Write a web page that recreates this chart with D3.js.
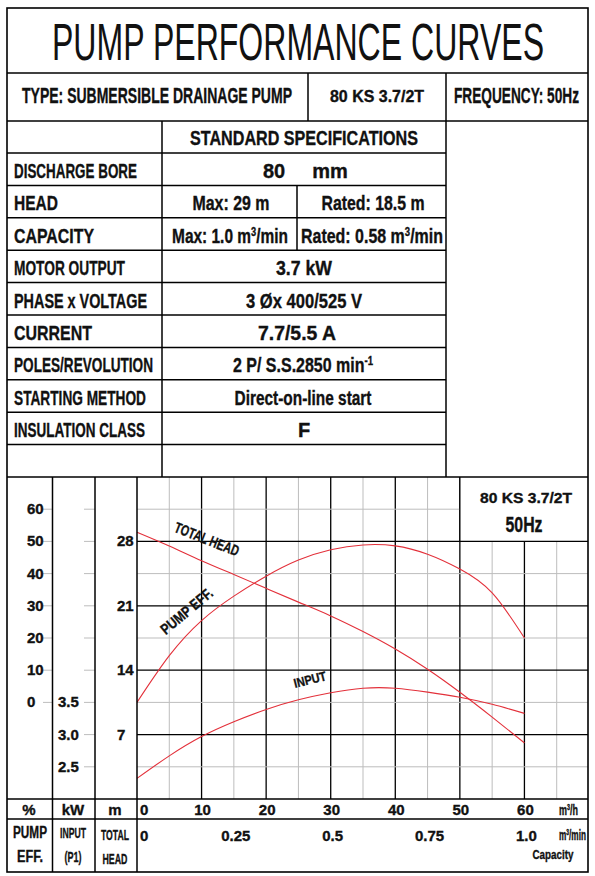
<!DOCTYPE html>
<html>
<head>
<meta charset="utf-8">
<script src="https://cdn.jsdelivr.net/npm/d3@7"></script>
<style>
  body { margin: 0; background: #fff; }
  svg { display: block; }
</style>
</head>
<body>
<svg id="sheet" width="595" height="876"></svg>
<script>
// --- data ---
const flowQ = [0, 5, 10, 15, 20, 25, 30, 35, 40, 45, 50, 55, 60];          // m3/h
const headM = [29.0, 27.5, 25.9, 24.4, 22.9, 21.4, 19.9, 18.2, 16.3, 14.1, 11.6, 8.9, 6.1];
const effPct = [0, 14.5, 25.4, 33.0, 39.2, 44.2, 47.4, 48.9, 48.6, 46.0, 41.4, 34.0, 20.0];
const inputKW = [2.32, 2.67, 2.97, 3.20, 3.39, 3.54, 3.65, 3.72, 3.72, 3.66, 3.58, 3.47, 3.33];

const flowTicks = [0, 10, 20, 30, 40, 50, 60];
const minTickLabels = ["0", "0.25", "0.5", "0.75", "1.0"];
const minTickFlows = [0, 15, 30, 45, 60];
const headTicks = [7, 14, 21, 28];
const effTicks = [0, 10, 20, 30, 40, 50, 60];
const kwTicks = [2.5, 3.0, 3.5];

const specLabels = ["DISCHARGE BORE", "HEAD", "CAPACITY", "MOTOR OUTPUT", "PHASE x VOLTAGE",
  "CURRENT", "POLES/REVOLUTION", "STARTING METHOD", "INSULATION CLASS", ""];
const specLabelWidths = [123, 44, 80, 111, 133, 78, 139, 132, 131, 0];

const NARROW = "'Liberation Sans Narrow', 'Arial Narrow', 'Liberation Sans', Arial, sans-serif";
const WIDE = "'Liberation Sans', Arial, sans-serif";
const RED = "#e3303a";

const svg = d3.select("#sheet");

// text helper; str may be an array with {sup:"3"} pieces
function label(parent, x, y, str, o = {}) {
  const size = o.size || 16;
  const t = parent.append("text")
    .attr("x", x).attr("y", y)
    .attr("font-family", o.family || NARROW)
    .attr("font-size", size)
    .attr("font-weight", o.weight || "bold")
    .attr("text-anchor", o.anchor || "start")
    .attr("fill", "#111");
  if ((o.weight || "bold") === "bold") t.attr("stroke", "#111").attr("stroke-width", 0.35);
  if (Array.isArray(str)) {
    let raised = false;
    str.forEach(p => {
      if (typeof p === "string") {
        t.append("tspan").attr("dy", raised ? size * 0.35 : null).text(p);
        raised = false;
      } else {
        t.append("tspan").attr("dy", -size * 0.35).attr("font-size", size * 0.6).text(p.sup);
        raised = true;
      }
    });
  } else t.text(str);
  if (o.w) t.attr("textLength", o.w).attr("lengthAdjust", "spacingAndGlyphs");
  if (o.rot) t.attr("transform", `rotate(${o.rot},${x},${y})`);
  return t;
}

function hline(y, x1, x2, w = 1.5, c = "#000") {
  svg.append("line").attr("x1", x1).attr("x2", x2).attr("y1", y).attr("y2", y)
    .attr("stroke", c).attr("stroke-width", w);
}
function vline(x, y1, y2, w = 1.5, c = "#000") {
  svg.append("line").attr("x1", x).attr("x2", x).attr("y1", y1).attr("y2", y2)
    .attr("stroke", c).attr("stroke-width", w);
}

// --- header table ---
const L = 7, R = 588, T = 8, B = 872;
const colA = 162, colB = 446, splitX = 297;
const rowTop0 = 153, rowH = 32.4;
const chartTop = rowTop0 + rowH * specLabels.length;

label(svg, 52, 60, "PUMP PERFORMANCE CURVES", {size: 52, weight: "normal", w: 492});
label(svg, 22, 103, "TYPE: SUBMERSIBLE  DRAINAGE  PUMP", {size: 22, w: 270});
label(svg, 377, 102, "80 KS 3.7/2T", {size: 16, family: WIDE, anchor: "middle", w: 94});
label(svg, 454, 103, "FREQUENCY: 50Hz", {size: 22, w: 125});
label(svg, 190, 145, "STANDARD SPECIFICATIONS", {size: 21, w: 228});

specLabels.forEach((s, i) => {
  if (s) label(svg, 14, rowTop0 + rowH * i + 25, s, {size: 21, w: specLabelWidths[i]});
});
const ry = i => rowTop0 + rowH * i + 25;
const mid = (colA + colB) / 2;
label(svg, 274, ry(0), "80", {size: 20, anchor: "middle"});
label(svg, 330, ry(0), "mm", {size: 20, anchor: "middle"});
label(svg, 231, ry(1), "Max: 29 m", {size: 20, anchor: "middle", w: 77});
label(svg, 373, ry(1), "Rated: 18.5 m", {size: 20, anchor: "middle", w: 103});
label(svg, 230, ry(2), ["Max: 1.0 m", {sup: "3"}, "/min"], {size: 20, anchor: "middle", w: 116});
label(svg, 372, ry(2), ["Rated: 0.58 m", {sup: "3"}, "/min"], {size: 20, anchor: "middle", w: 142});
label(svg, mid, ry(3), "3.7  kW", {size: 20, anchor: "middle", w: 56});
label(svg, mid, ry(4), "3 \u00d8x 400/525 V", {size: 20, anchor: "middle", w: 116});
label(svg, 297, ry(5), "7.7/5.5 A", {size: 20, anchor: "middle", w: 78});
label(svg, 303, ry(6), ["2 P/ S.S.2850 min", {sup: "-1"}], {size: 20, anchor: "middle", w: 140});
label(svg, 303, ry(7), "Direct-on-line start", {size: 20, anchor: "middle", w: 137});
label(svg, 304, ry(8), "F", {size: 20, anchor: "middle"});

// --- chart ---
const colPct = 52.5, colKw = 95, plotL = 137, axisY = 799, axis2Y = 819;

const x = d3.scaleLinear().domain([0, 70]).range([plotL, 589]);
const yHead = d3.scaleLinear().domain([0, 35]).range([axisY, chartTop]);
const yEff = d3.scaleLinear().domain([0, 70]).range([yHead(10.5), yHead(35)]);
const yKw = d3.scaleLinear().domain([2, 7]).range([axisY, chartTop]);

// grid
d3.range(5, 70, 5).forEach(q => {
  const major = q % 10 === 0;
  vline(x(q), chartTop, axisY, major ? 1.3 : 1, major ? "#000" : "#bdbdbd");
});
d3.range(3.5, 35, 3.5).forEach(h => {
  const major = Math.abs(h / 7 - Math.round(h / 7)) < 1e-6;
  hline(yHead(h), plotL, R, major ? 1.3 : 1, major ? "#000" : "#bdbdbd");
});

// model box top right
svg.append("rect").attr("x", x(50)).attr("y", chartTop)
  .attr("width", R - x(50)).attr("height", yHead(28) - chartTop).attr("fill", "#fff");
vline(x(50), chartTop, yHead(28), 1.3);
hline(yHead(28), x(50), R, 1.3);
label(svg, 526, 503, "80 KS 3.7/2T", {size: 15, family: WIDE, anchor: "middle", w: 92});
label(svg, 524, 532, "50Hz", {size: 22, anchor: "middle", w: 37});

// left scale columns
effTicks.forEach(e => {
  hline(yEff(e), 43, colPct, 1, "#bdbdbd");
  label(svg, 27, yEff(e) + 5, String(e), {size: 15});
});
d3.range(2.5, 7, 0.5).forEach(k => hline(yKw(k), 84, colKw, 1, "#bdbdbd"));
kwTicks.forEach(k => label(svg, 58, yKw(k) + 5, k.toFixed(1), {size: 15}));
headTicks.forEach(h => label(svg, 117, yHead(h) + 5, String(h), {size: 15}));

// curves
const pts = vals => flowQ.map((q, i) => [q, vals[i]]);
const drawCurve = (vals, yScale) => svg.append("path")
  .datum(pts(vals))
  .attr("fill", "none").attr("stroke", RED).attr("stroke-width", 1.1)
  .attr("d", d3.line().x(d => x(d[0])).y(d => yScale(d[1])).curve(d3.curveNatural));
drawCurve(headM, yHead);
drawCurve(effPct, yEff);
drawCurve(inputKW, yKw);

label(svg, 205, 544, "TOTAL HEAD", {size: 15, anchor: "middle", w: 68, rot: 21.5});
label(svg, 190, 615, "PUMP EFF.", {size: 15, anchor: "middle", w: 63, rot: -40});
label(svg, 311, 684, "INPUT", {size: 13, anchor: "middle", w: 33, rot: -14});

// axis rows
label(svg, 29, 815, "%", {size: 15, anchor: "middle"});
label(svg, 73, 815, "kW", {size: 15, anchor: "middle"});
label(svg, 115, 815, "m", {size: 15, anchor: "middle"});
flowTicks.forEach(q => {
  if (q === 0) label(svg, 140, 815, "0", {size: 15});
  else label(svg, x(q) + 1, 815, String(q), {size: 15, anchor: "middle"});
});
label(svg, 559, 815, ["m", {sup: "3"}, "/h"], {size: 14, w: 19});
minTickFlows.forEach((q, i) => {
  if (q === 0) label(svg, 140, 841, minTickLabels[i], {size: 15});
  else label(svg, x(q) + 2, 841, minTickLabels[i], {size: 15, anchor: "middle"});
});
label(svg, 559, 840, ["m", {sup: "3"}, "/min"], {size: 14, w: 27});
label(svg, 553, 859, "Capacity", {size: 13, anchor: "middle", w: 41});

label(svg, 30, 838, "PUMP", {size: 16, anchor: "middle", w: 34});
label(svg, 30, 862, "EFF.", {size: 16, anchor: "middle", w: 26});
label(svg, 73, 838, "INPUT", {size: 15, anchor: "middle", w: 26});
label(svg, 73, 862, "(P1)", {size: 15, anchor: "middle", w: 17});
label(svg, 115, 840, "TOTAL", {size: 15, anchor: "middle", w: 28});
label(svg, 115, 864, "HEAD", {size: 15, anchor: "middle", w: 25});

// --- rules ---
hline(73, L, R); hline(121, L, R);
hline(rowTop0, L, colB);
d3.range(1, specLabels.length).forEach(i => hline(rowTop0 + rowH * i, L, colB));
hline(chartTop, L, R);
vline(308, 73, 121); vline(colB, 73, chartTop); vline(colA, 121, chartTop);
vline(splitX, rowTop0 + rowH, rowTop0 + rowH * 3);
[colPct, colKw, plotL].forEach(cx => vline(cx, chartTop, B));
hline(axisY, L, R); hline(axis2Y, L, R);
svg.append("rect").attr("x", L).attr("y", T).attr("width", R - L).attr("height", B - T)
  .attr("fill", "none").attr("stroke", "#000").attr("stroke-width", 1.6);
</script>
</body>
</html>
